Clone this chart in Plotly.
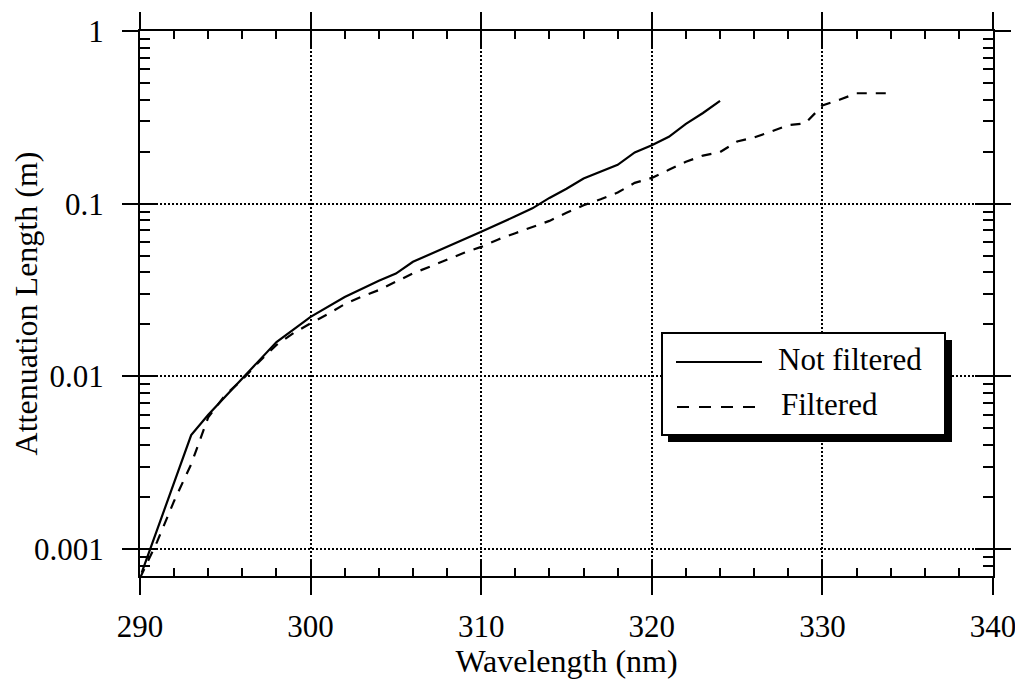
import plotly.graph_objects as go

# ---- data ----
wl_not_filtered = [290.1, 293, 294, 296, 298, 300, 302, 304, 305, 306, 308, 310,
                   312, 313, 314, 315, 316, 317, 318, 319, 320, 321, 322, 323, 324]
att_not_filtered = [0.00073, 0.00457, 0.0060, 0.0098, 0.0158, 0.0221, 0.0288, 0.0358,
                    0.0394, 0.0461, 0.0560, 0.0687, 0.0845, 0.094, 0.108, 0.122, 0.140,
                    0.153, 0.168, 0.198, 0.218, 0.244, 0.290, 0.335, 0.394]

wl_filtered = [290, 291, 292, 293, 294, 295, 296, 297, 298, 299, 300, 301, 302, 303,
               304, 305, 306, 307, 308, 309, 310, 311, 312, 313, 314, 315, 316, 317,
               318, 319, 320, 321, 322, 323, 324, 325, 326, 327, 328, 329, 330, 331,
               332, 333, 334]
att_filtered = [0.00068, 0.0011, 0.0019, 0.0031, 0.0058, 0.0078, 0.0096, 0.0122, 0.0152,
                0.0178, 0.0203, 0.0229, 0.0262, 0.0290, 0.0316, 0.0352, 0.0395, 0.0432,
                0.0475, 0.0520, 0.0562, 0.0621, 0.0675, 0.0730, 0.0795, 0.0885, 0.098,
                0.106, 0.116, 0.132, 0.141, 0.157, 0.175, 0.190, 0.199, 0.229, 0.242,
                0.262, 0.285, 0.292, 0.370, 0.400, 0.436, 0.436, 0.436]

series_names = ["Not filtered", "Filtered"]
x_tick_vals = [290, 300, 310, 320, 330, 340]
x_tick_text = ["290", "300", "310", "320", "330", "340"]
y_tick_vals = [0.001, 0.01, 0.1, 1]
y_tick_text = ["0.001", "0.01", "0.1", "1"]

FONT = "Liberation Serif, Times New Roman, serif"
FS_TICK = 31
FS_TITLE = 32
FS_LEG = 31

fig = go.Figure()
fig.add_trace(go.Scatter(x=wl_not_filtered, y=att_not_filtered, mode="lines",
                         name=series_names[0], line=dict(color="black", width=2.2),
                         showlegend=False))
fig.add_trace(go.Scatter(x=wl_filtered, y=att_filtered, mode="lines",
                         name=series_names[1],
                         line=dict(color="black", width=2.2, dash="10px,9px"),
                         showlegend=False))
# invisible trace on the overlay axes so they render
fig.add_trace(go.Scatter(x=[None], y=[None], xaxis="x2", yaxis="y2", showlegend=False,
                         hoverinfo="skip"))

xr = [290, 340]
yr = [-3.156, 0]
minor_y = [m * 10.0 ** e for e in range(-4, 0) for m in range(2, 10)]

common = dict(showline=True, linecolor="black", linewidth=2, mirror="allticks",
              tickcolor="black", tickwidth=1.6, zeroline=False, automargin=False)

# the page body adds an 8px offset, so the figure is 8px smaller than the window
OFF = 8
fig.update_layout(
    width=1023 - OFF, height=679 - OFF,
    margin=dict(l=140 - OFF, r=30, t=31 - OFF, b=103),
    paper_bgcolor="white", plot_bgcolor="white",
    font=dict(family=FONT, size=FS_TICK, color="black"),
    xaxis=dict(range=xr, tickvals=x_tick_vals, ticktext=x_tick_text, ticks="outside",
               ticklen=17, showgrid=True, gridcolor="black", gridwidth=1.8,
               griddash="2px,2px", ticklabelstandoff=5,
               tickfont=dict(family=FONT, size=FS_TICK),
               title=dict(text="Wavelength (nm)", standoff=4,
                          font=dict(family=FONT, size=FS_TITLE)),
               **common),
    yaxis=dict(type="log", range=yr, tickvals=y_tick_vals, ticktext=y_tick_text,
               ticks="outside", ticklen=16, showgrid=True, gridcolor="black",
               gridwidth=1.8, griddash="2px,2px", ticklabelstandoff=12,
               tickfont=dict(family=FONT, size=FS_TICK),
               title=dict(text="Attenuation Length (m)", standoff=8,
                          font=dict(family=FONT, size=FS_TITLE)),
               **common),
    xaxis2=dict(overlaying="x", range=xr, tickvals=x_tick_vals, ticks="inside",
                ticklen=16, showticklabels=False, showgrid=False,
                minor=dict(ticks="inside", ticklen=8, tickmode="array",
                           tickvals=list(range(290, 341, 2)), tickcolor="black",
                           tickwidth=1.6, showgrid=False),
                **common),
    yaxis2=dict(overlaying="y", type="log", range=yr, tickvals=y_tick_vals,
                ticks="inside", ticklen=18, showticklabels=False, showgrid=False,
                minor=dict(ticks="inside", ticklen=10, tickmode="array",
                           tickvals=minor_y, tickcolor="black", tickwidth=1.6,
                           showgrid=False),
                **common),
)

# ---- custom legend (paper coordinates, from window-pixel positions) ----
PL, PR, PT, PB = 140, 993, 31, 576


def px(xp):
    return (xp - PL) / (PR - PL)


def py(yp):
    return (PB - yp) / (PB - PT)


shapes = [
    dict(type="rect", xref="paper", yref="paper", x0=px(668), x1=px(952), y0=py(442),
         y1=py(340), fillcolor="black", line=dict(width=0), layer="above"),
    dict(type="rect", xref="paper", yref="paper", x0=px(662), x1=px(945), y0=py(435),
         y1=py(333), fillcolor="white", line=dict(color="black", width=2), layer="above"),
    dict(type="line", xref="paper", yref="paper", x0=px(676), x1=px(762), y0=py(362),
         y1=py(362), line=dict(color="black", width=2), layer="above"),
    dict(type="line", xref="paper", yref="paper", x0=px(677), x1=px(760), y0=py(407),
         y1=py(407), line=dict(color="black", width=2, dash="12px,10px"), layer="above"),
]
fig.update_layout(shapes=shapes)
fig.add_annotation(xref="paper", yref="paper", x=px(776), y=py(359), text=series_names[0],
                   showarrow=False, xanchor="left", yanchor="middle",
                   font=dict(family=FONT, size=FS_LEG, color="black"))
fig.add_annotation(xref="paper", yref="paper", x=px(779), y=py(404), text=series_names[1],
                   showarrow=False, xanchor="left", yanchor="middle",
                   font=dict(family=FONT, size=FS_LEG, color="black"))

fig.write_html("out.html")
